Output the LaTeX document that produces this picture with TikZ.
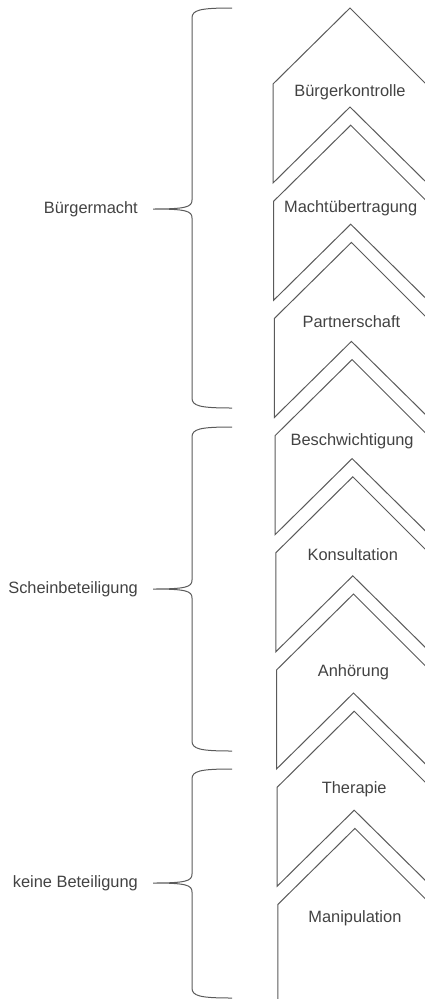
\documentclass[tikz,border=0pt]{standalone}
\usepackage{fontspec}
\setmainfont{Liberation Sans}
\definecolor{ln}{HTML}{5A5A5A}
\definecolor{tx}{HTML}{424242}
\begin{document}
\begin{tikzpicture}[x=1pt,y=-1pt,
  chev/.style={draw=ln, line width=1pt, line join=miter},
  lbl/.style={text=tx, font=\fontsize{16.4}{18}\selectfont, inner sep=0pt},
  brace/.style={draw=ln, line width=1pt}]
\useasboundingbox (0,0) rectangle (425,999);
\clip (0,0) rectangle (425,999);
% chevrons with labels
\foreach \i/\nm/\txt/\dy/\h in {
  0/s1/Bürgerkontrolle/84/175,
  1/s2/Machtübertragung/83/175,
  2/s3/Partnerschaft/79/175,
  3/s4/Beschwichtigung/82/175,
  4/s5/Konsultation/78/175,
  5/s6/Anhörung/78/175,
  6/s7/Therapie/78/175,
  7/s8/Manipulation/90/400} {
  \pgfmathsetmacro\cx{350+0.7*\i}
  \pgfmathsetmacro\ay{8+117.2*\i}
  \draw[chev] (\cx-77,\ay+76) -- (\cx,\ay) -- (\cx+77,\ay+77) -- (\cx+77,\ay+\h)
     -- (\cx,\ay+\h-76) -- (\cx-77,\ay+\h) -- cycle;
  \node[lbl] (\nm) at (\cx,\ay+\dy) {\txt};
}
% braces
\foreach \nm/\t/\m/\b/\txt in {
  g1/8/209/408/Bürgermacht,
  g2/427/589/751/Scheinbeteiligung,
  g3/769/883/998/keine Beteiligung} {
  \coordinate (\nm tip) at (153,\m);
  \draw[brace] (232,\t) .. controls (200,\t) and (192,\t+2) .. (192,\t+10)
     -- (192,\m-9) .. controls (192,\m-2) and (186,\m) .. (\nm tip)
     .. controls (186,\m) and (192,\m+2) .. (192,\m+9)
     -- (192,\b-10) .. controls (192,\b-2) and (200,\b) .. (232,\b);
  \node[lbl, anchor=east] (\nm) at ([xshift=-15pt]\nm tip) {\txt};
}
\end{tikzpicture}
\end{document}
